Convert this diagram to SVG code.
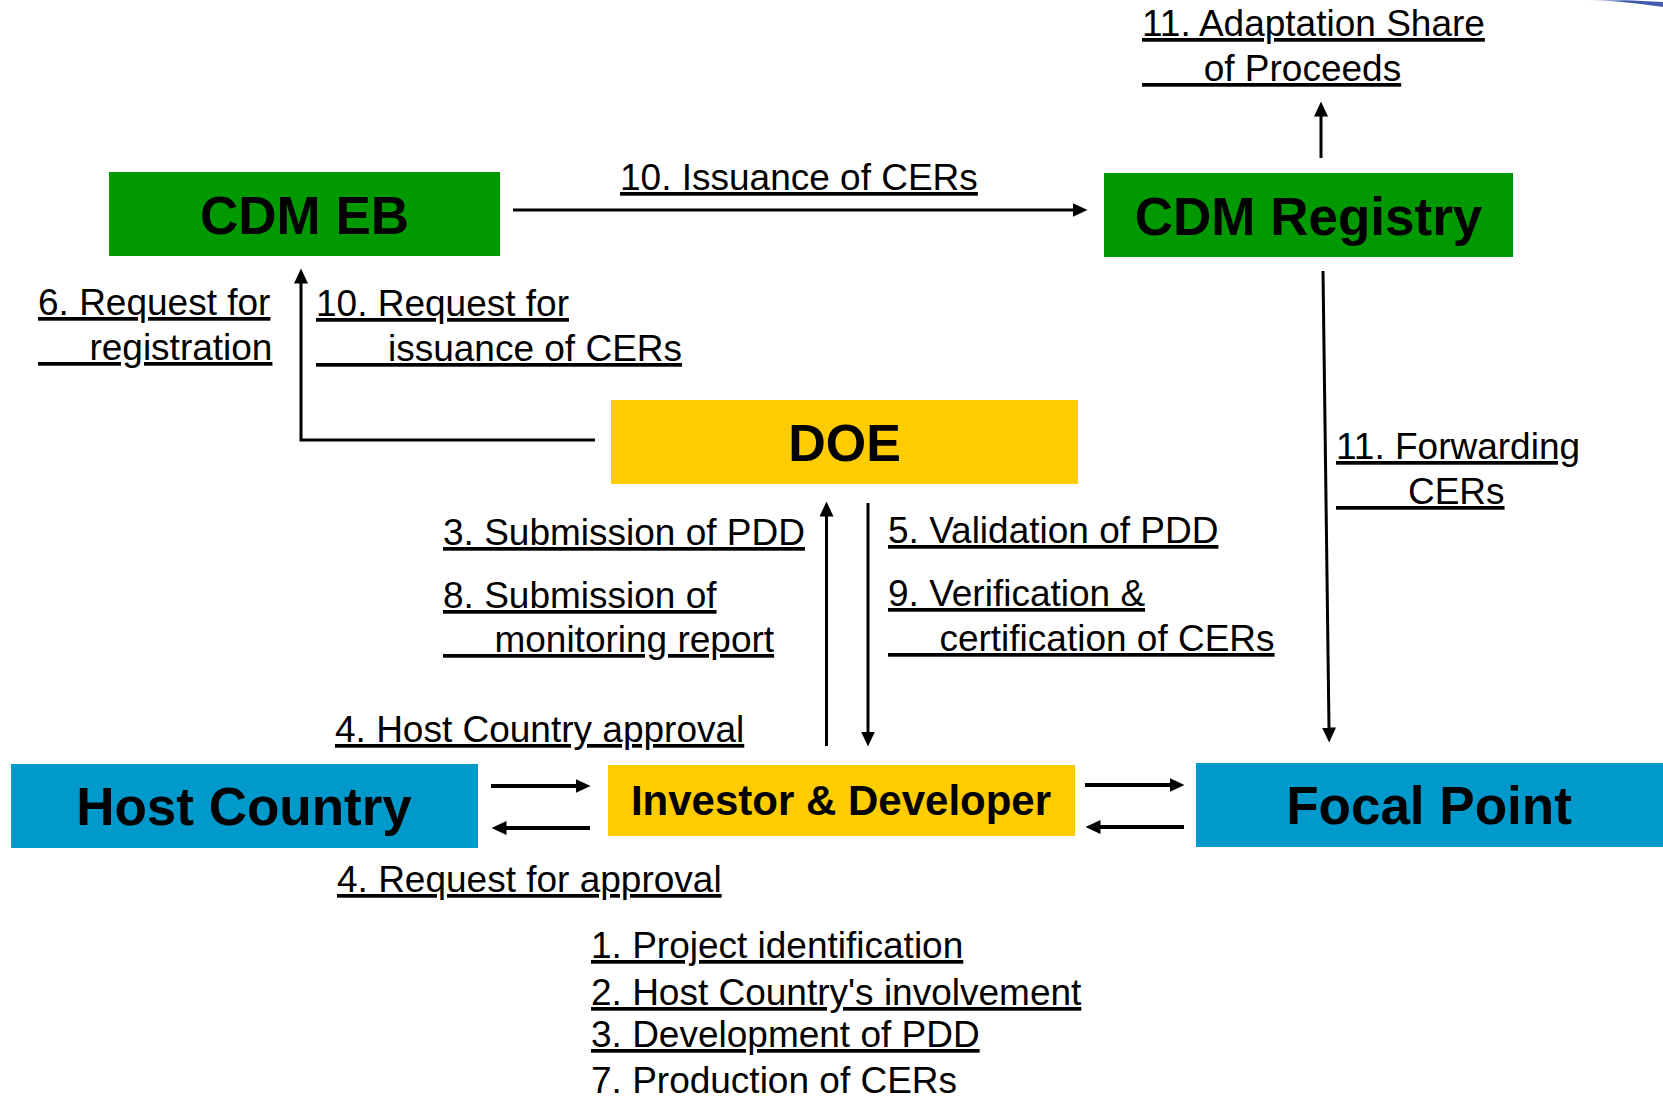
<svg xmlns="http://www.w3.org/2000/svg" width="1663" height="1098" viewBox="0 0 1663 1098">
<style>
.lbl{font-family:"Liberation Sans",Arial,sans-serif;font-size:37px;fill:#000;text-decoration:underline;text-decoration-thickness:3px;white-space:pre}
.plain{font-family:"Liberation Sans",Arial,sans-serif;font-size:37px;fill:#000;white-space:pre}
.node{font-family:"Liberation Sans",Arial,sans-serif;font-weight:bold;fill:#000;text-anchor:middle}
.green{fill:#009900}
.yellow{fill:#FFCC00}
.blue{fill:#0099CC}
.conn{stroke:#000;stroke-width:3;fill:none;marker-end:url(#ah)}
.conn2{stroke:#000;stroke-width:4;fill:none;marker-end:url(#ah)}
</style>
<defs>
<marker id="ah" viewBox="0 0 15 14" markerWidth="15" markerHeight="14" refX="0.5" refY="7" markerUnits="userSpaceOnUse" orient="auto">
<path d="M0,0 L15,7 L0,14 Z" fill="#000"/>
</marker>
<linearGradient id="sw" x1="0" y1="0" x2="1" y2="0">
<stop offset="0" stop-color="#c8d4ee" stop-opacity="0.3"/>
<stop offset="0.5" stop-color="#3a58a8"/>
<stop offset="1" stop-color="#4660b0"/>
</linearGradient>
</defs>
<rect width="1663" height="1098" fill="#fff"/>
<path d="M1585,0 Q1625,1 1663,7 L1663,2 Q1630,0 1610,0 Z" fill="url(#sw)"/>

<g id="cdm-eb"><rect class="green" x="109" y="172" width="391" height="84"/><text class="node" x="304.5" y="234" font-size="53">CDM EB</text></g>
<g id="cdm-registry"><rect class="green" x="1104" y="173" width="409" height="84"/><text class="node" x="1308.5" y="235" font-size="53">CDM Registry</text></g>
<g id="doe"><rect class="yellow" x="611" y="400" width="467" height="84"/><text class="node" x="844.5" y="461" font-size="52">DOE</text></g>
<g id="host-country"><rect class="blue" x="11" y="764" width="467" height="84"/><text class="node" x="244" y="825" font-size="53">Host Country</text></g>
<g id="investor-developer"><rect class="yellow" x="608" y="765" width="467" height="71"/><text class="node" x="841" y="815" font-size="42">Investor &amp; Developer</text></g>
<g id="focal-point"><rect class="blue" x="1196" y="763" width="467" height="84"/><text class="node" x="1429" y="824" font-size="53">Focal Point</text></g>

<g id="connectors">
<line class="conn" x1="513" y1="210" x2="1073" y2="210"/>
<line class="conn" x1="1321" y1="158" x2="1321" y2="116"/>
<polyline class="conn" points="595,440 301,440 301,283"/>
<line class="conn" x1="826.5" y1="746" x2="826.5" y2="516"/>
<line class="conn" x1="868" y1="503" x2="868" y2="732"/>
<line class="conn" x1="1323" y1="271" x2="1329" y2="728"/>
<line class="conn2" x1="491" y1="786" x2="576" y2="786"/>
<line class="conn2" x1="590" y1="828" x2="506" y2="828"/>
<line class="conn2" x1="1085" y1="785" x2="1170" y2="785"/>
<line class="conn2" x1="1184" y1="827" x2="1100" y2="827"/>
</g>

<g id="labels">
<text class="lbl" x="1142" y="36">11. Adaptation Share</text>
<text class="lbl" x="1142" y="81">      of Proceeds</text>
<text class="lbl" x="620" y="190">10. Issuance of CERs</text>
<text class="lbl" x="38" y="315">6. Request for</text>
<text class="lbl" x="38" y="360">     registration</text>
<text class="lbl" x="316" y="316">10. Request for</text>
<text class="lbl" x="316" y="361">       issuance of CERs</text>
<text class="lbl" x="443" y="545">3. Submission of PDD</text>
<text class="lbl" x="443" y="608">8. Submission of</text>
<text class="lbl" x="443" y="652">     monitoring report</text>
<text class="lbl" x="888" y="543">5. Validation of PDD</text>
<text class="lbl" x="888" y="606">9. Verification &amp;</text>
<text class="lbl" x="888" y="651">     certification of CERs</text>
<text class="lbl" x="1336" y="459">11. Forwarding</text>
<text class="lbl" x="1336" y="504">       CERs</text>
<text class="lbl" x="335" y="742">4. Host Country approval</text>
<text class="lbl" x="337" y="892">4. Request for approval</text>
<text class="lbl" x="591" y="958">1. Project identification</text>
<text class="lbl" x="591" y="1005">2. Host Country's involvement</text>
<text class="lbl" x="591" y="1047">3. Development of PDD</text>
<text class="plain" x="591" y="1093">7. Production of CERs</text>
</g>
</svg>
